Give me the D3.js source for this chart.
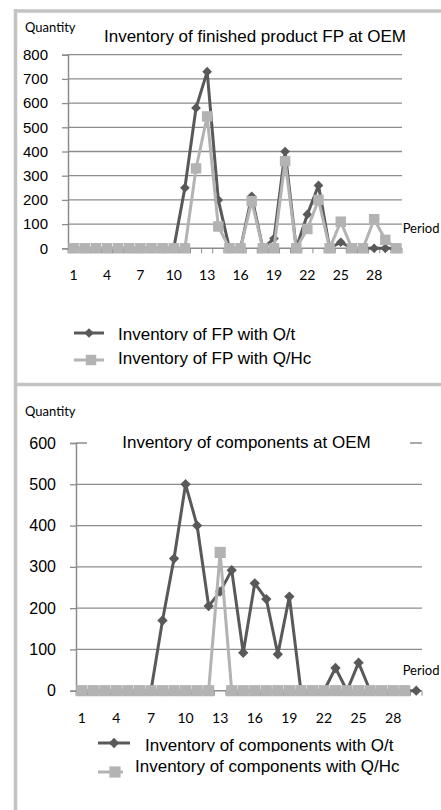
<!DOCTYPE html>
<html lang="en">
<head>
  <meta charset="UTF-8">
  <title>Inventory at OEM</title>
  <script src="https://d3js.org/d3.v7.min.js"></script>
  <style>
    body {
      margin: 0;
      background-color: #ffffff;
    }
    svg {
      display: block;
    }
    .arial {
      font-family: "Liberation Sans", Arial, sans-serif;
      fill: #000000;
    }
    .calibri {
      font-family: Lato, "Open Sans", sans-serif;
      fill: #000000;
    }
  </style>
</head>
<body>
  <div id="chart"></div>

  <script>
    // periods on the x axis
    const periods = [1, 2, 3, 4, 5, 6, 7, 8, 9, 10, 11, 12, 13, 14, 15,
                     16, 17, 18, 19, 20, 21, 22, 23, 24, 25, 26, 27, 28, 29, 30];
    const periodLabels = [1, 4, 7, 10, 13, 16, 19, 22, 25, 28];

    // finished product FP
    const fpQt  = [0, 0, 0, 0, 0, 0, 0, 0, 0, 0, 250, 580, 730, 200, 0,
                   0, 215, 0, 40, 400, 0, 140, 260, 0, 25, 0, 0, 0, 0, 0];
    const fpQhc = [0, 0, 0, 0, 0, 0, 0, 0, 0, 0, 0, 330, 545, 90, 0,
                   0, 195, 0, 0, 360, 0, 80, 200, 0, 110, 0, 0, 120, 35, 0];
    const fpTicks = [0, 100, 200, 300, 400, 500, 600, 700, 800];

    // components
    const compQt  = [0, 0, 0, 0, 0, 0, 0, 170, 320, 500, 400, 205, 240, 292, 92,
                     260, 222, 88, 228, 0, 0, 0, 55, 0, 68, 0, 0, 0, 0, 0];
    const compQhc = [0, 0, 0, 0, 0, 0, 0, 0, 0, 0, 0, 0, 335, 0, 0,
                     0, 0, 0, 0, 0, 0, 0, 0, 0, 0, 0, 0, 0, 0, null];
    const compTicks = [0, 100, 200, 300, 400, 500, 600];

    const darkColor = '#595959';
    const lightColor = '#b3b3b3';
    const gridColor = '#8c8c8c';
    const frameColor = '#c3c3c3';

    const svg = d3.select('#chart')
      .append('svg')
      .attr('width', 441)
      .attr('height', 810);

    svg.append('rect').attr('width', 441).attr('height', 810).attr('fill', '#ffffff');

    const defs = svg.append('defs');

    // frame of the two charts
    svg.append('line').attr('x1', 15.5).attr('x2', 441).attr('y1', 11).attr('y2', 11)
      .attr('stroke', frameColor).attr('stroke-width', 3.5);
    svg.append('line').attr('x1', 15.5).attr('x2', 15.5).attr('y1', 9).attr('y2', 810)
      .attr('stroke', frameColor).attr('stroke-width', 3.5);
    svg.append('line').attr('x1', 15.5).attr('x2', 441).attr('y1', 384.5).attr('y2', 384.5)
      .attr('stroke', frameColor).attr('stroke-width', 3.5);

    function drawChart(cfg) {
      const g = svg.append('g');

      const x = d3.scaleBand().domain(periods).range([cfg.left, cfg.right]);
      const y = d3.scaleLinear().domain([0, cfg.yMax]).range([cfg.bottom, cfg.top]);

      // gridlines
      g.append('g')
        .selectAll('line')
        .data(cfg.ticks.filter(d => d > 0))
        .enter()
        .append('line')
        .attr('x1', cfg.left)
        .attr('x2', cfg.right)
        .attr('y1', d => y(d))
        .attr('y2', d => y(d))
        .attr('stroke', gridColor)
        .attr('stroke-width', 1.3);

      // title, with a white box behind it
      if (cfg.titleBox) {
        g.append('rect')
          .attr('x', cfg.titleBox[0]).attr('y', cfg.titleBox[1])
          .attr('width', cfg.titleBox[2]).attr('height', cfg.titleBox[3])
          .attr('fill', '#ffffff');
      }
      g.append('text')
        .attr('class', 'arial')
        .attr('x', cfg.titleX)
        .attr('y', cfg.titleY)
        .attr('text-anchor', 'middle')
        .style('font-size', '17px')
        .text(cfg.title);

      // y axis
      const yAxis = d3.axisLeft(y).tickValues(cfg.ticks).tickSize(6).tickPadding(cfg.yPad);
      const ya = g.append('g')
        .attr('transform', `translate(${cfg.left},0)`)
        .call(yAxis);
      ya.select('.domain').attr('stroke', gridColor).attr('stroke-width', 1.5);
      ya.selectAll('.tick line').attr('stroke', gridColor).attr('stroke-width', 1.3);
      ya.selectAll('.tick text')
        .attr('class', 'arial')
        .style('font-size', cfg.yFont + 'px')
        .attr('font-family', null);

      // x axis: ticks between periods
      const xa = g.append('g');
      xa.append('line')
        .attr('x1', cfg.left).attr('x2', cfg.right)
        .attr('y1', cfg.bottom).attr('y2', cfg.bottom)
        .attr('stroke', gridColor).attr('stroke-width', 1.5);
      xa.selectAll('line.tk')
        .data(periods.concat([31]))
        .enter()
        .append('line')
        .attr('class', 'tk')
        .attr('x1', d => d <= 30 ? x(d) : cfg.right)
        .attr('x2', d => d <= 30 ? x(d) : cfg.right)
        .attr('y1', cfg.bottom)
        .attr('y2', cfg.bottom + 5)
        .attr('stroke', gridColor)
        .attr('stroke-width', 1);
      xa.selectAll('text')
        .data(periodLabels)
        .enter()
        .append('text')
        .attr('class', 'calibri')
        .attr('x', d => x(d) + x.bandwidth() / 2)
        .attr('y', cfg.xLabelY)
        .attr('text-anchor', 'middle')
        .style('font-size', '14px')
        .text(d => d);

      g.append('text')
        .attr('class', 'calibri')
        .attr('x', 25)
        .attr('y', cfg.qtyY)
        .style('font-size', '13px')
        .text('Quantity');
      g.append('text')
        .attr('class', 'calibri')
        .attr('x', 439.5)
        .attr('y', cfg.periodY)
        .attr('text-anchor', 'end')
        .style('font-size', '13px')
        .text('Period');

      const diamond = d3.symbol().type(d3.symbolDiamond2).size(cfg.diamondSize);
      const square = d3.symbol().type(d3.symbolSquare).size(cfg.squareSize);

      const series = [
        { values: cfg.dark, color: darkColor, sym: diamond },
        { values: cfg.light, color: lightColor, sym: square }
      ];

      series.forEach(s => {
        const pts = periods.map((p, i) => ({ p: p, v: s.values[i] }));
        const line = d3.line()
          .defined(d => d.v !== null)
          .x(d => x(d.p) + x.bandwidth() / 2)
          .y(d => y(d.v));
        g.append('path')
          .datum(pts)
          .attr('d', line)
          .attr('fill', 'none')
          .attr('stroke', s.color)
          .attr('stroke-width', 3)
          .attr('stroke-linejoin', 'round');
        g.append('g')
          .selectAll('path')
          .data(pts.filter(d => d.v !== null))
          .enter()
          .append('path')
          .attr('d', s.sym)
          .attr('transform', d => `translate(${x(d.p) + x.bandwidth() / 2},${y(d.v)})`)
          .attr('fill', s.color);
      });

      // legend
      cfg.legend.forEach((item, i) => {
        const lg = g.append('g');
        lg.append('line')
          .attr('x1', item.lx1).attr('x2', item.lx2)
          .attr('y1', item.my).attr('y2', item.my)
          .attr('stroke', series[i].color).attr('stroke-width', 3);
        lg.append('path')
          .attr('d', series[i].sym)
          .attr('transform', `translate(${item.mx},${item.my})`)
          .attr('fill', series[i].color);
        const t = lg.append('text')
          .attr('class', 'arial')
          .attr('x', item.tx)
          .attr('y', item.ty)
          .style('font-size', '17px')
          .text(item.label);
        if (item.clip) {
          const id = 'clip' + cfg.id + i;
          defs.append('clipPath').attr('id', id)
            .append('rect')
            .attr('x', 0).attr('y', 0).attr('width', 441).attr('height', item.ty + 0.8);
          t.attr('clip-path', `url(#${id})`);
        }
      });
    }

    drawChart({
      id: 'fp',
      left: 68, right: 402, top: 54.7, bottom: 248.3, yMax: 800,
      ticks: fpTicks, yPad: 14, yFont: 15,
      dark: fpQt, light: fpQhc,
      title: 'Inventory of finished product FP at OEM',
      titleX: 255, titleY: 42,
      xLabelY: 280, qtyY: 32, periodY: 233,
      diamondSize: 60, squareSize: 110,
      legend: [
        { lx1: 74, lx2: 104, mx: 89, my: 333, tx: 118, ty: 340, clip: true,
          label: 'Inventory of FP with Q/t' },
        { lx1: 74, lx2: 104, mx: 91, my: 360, tx: 118, ty: 364, clip: false,
          label: 'Inventory of FP with Q/Hc' }
      ]
    });

    drawChart({
      id: 'comp',
      left: 76, right: 422, top: 443, bottom: 690.7, yMax: 600,
      ticks: compTicks, yPad: 14, yFont: 16,
      dark: compQt, light: compQhc,
      title: 'Inventory of components at OEM',
      titleX: 246.5, titleY: 448, titleBox: [87, 430, 323, 24],
      xLabelY: 723, qtyY: 416, periodY: 675,
      diamondSize: 68, squareSize: 125,
      legend: [
        { lx1: 98, lx2: 130, mx: 114, my: 743, tx: 145, ty: 751, clip: true,
          label: 'Inventory of components with Q/t' },
        { lx1: 98, lx2: 123, mx: 115, my: 772, tx: 135, ty: 772, clip: false,
          label: 'Inventory of components with Q/Hc' }
      ]
    });
  </script>
</body>
</html>
